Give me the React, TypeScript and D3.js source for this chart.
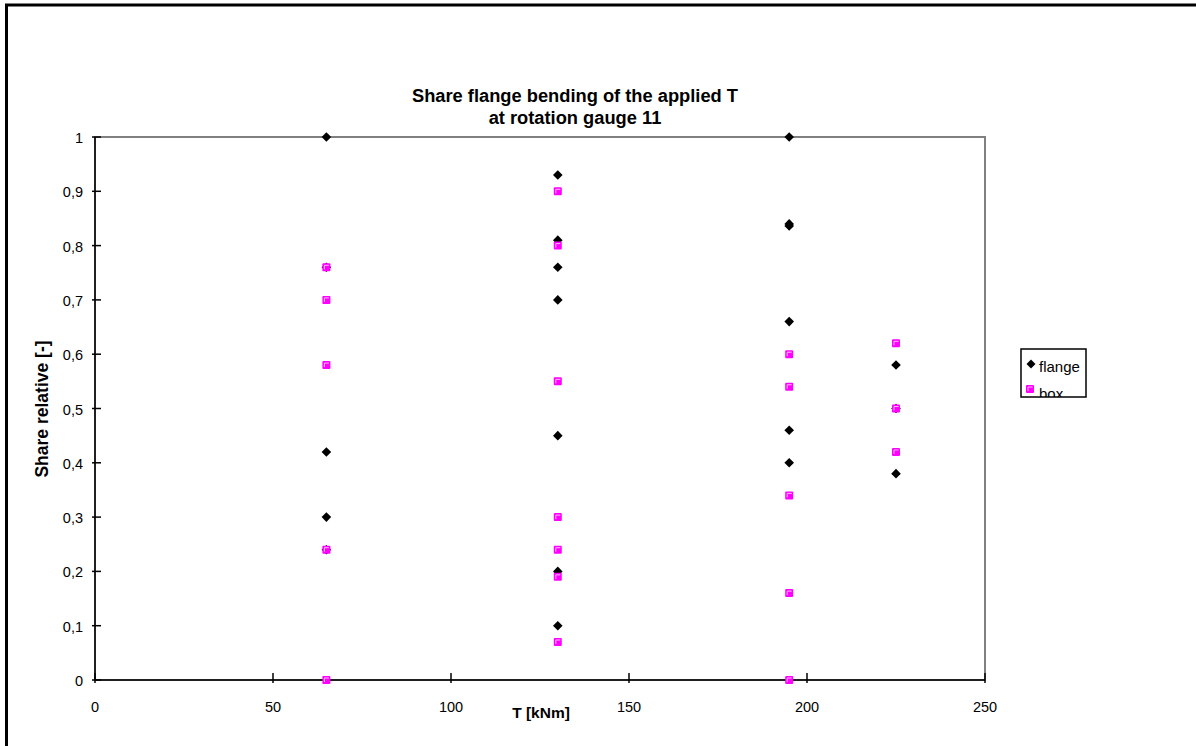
import React from "react";
import * as d3 from "d3";

const flangeT = [65, 65, 65, 65, 65, 130, 130, 130, 130, 130, 130, 130, 195, 195, 195, 195, 195, 195, 225, 225, 225];
const flangeV = [1.0, 0.76, 0.42, 0.30, 0.24, 0.93, 0.81, 0.76, 0.70, 0.45, 0.20, 0.10, 1.0, 0.84, 0.836, 0.66, 0.46, 0.40, 0.58, 0.50, 0.38];
const boxT = [65, 65, 65, 65, 65, 130, 130, 130, 130, 130, 130, 130, 195, 195, 195, 195, 195, 225, 225, 225];
const boxV = [0.76, 0.70, 0.58, 0.24, 0.0, 0.90, 0.80, 0.55, 0.30, 0.24, 0.19, 0.07, 0.60, 0.54, 0.34, 0.16, 0.0, 0.62, 0.50, 0.42];
const xTicks = [0, 50, 100, 150, 200, 250];
const yTicks = [0, 0.1, 0.2, 0.3, 0.4, 0.5, 0.6, 0.7, 0.8, 0.9, 1];
const titleLines = ["Share flange bending of the applied T", "at rotation gauge 11"];
const seriesNames = ["flange", "box"];

const FONT = "'Liberation Sans', Arial, sans-serif";

function Diamond({ x, y, r = 4.8 }: { x: number; y: number; r?: number }) {
  return <path d={`M${x},${y - r}L${x + r},${y}L${x},${y + r}L${x - r},${y}Z`} fill="#000" />;
}

function Square({ x, y }: { x: number; y: number }) {
  return (
    <g>
      <rect x={x - 4} y={y - 4} width={8} height={8} rx={1} fill="#ff00ff" />
      <path d={`M${x - 2},${y + 2}V${y - 2}H${x + 2.5}`} fill="none" stroke="#ffb8ff" strokeWidth={1} />
    </g>
  );
}

export default function App() {
  const x = d3.scaleLinear().domain([0, 250]).range([95, 985]);
  const y = d3.scaleLinear().domain([0, 1]).range([680, 137]);
  const fmt = (v: number) => (v === 0 || v === 1 ? String(v) : d3.format(".1f")(v).replace(".", ","));

  return (
    <svg width={1196} height={746} style={{ position: "absolute", left: 0, top: 0, background: "#fff" }} fontFamily={FONT}>
      <rect x={0} y={0} width={1196} height={746} fill="#fff" />
      <rect x={6.5} y={5} width={1400} height={1000} fill="none" stroke="#000" strokeWidth={3} />

      {/* title */}
      {titleLines.map((t, i) => (
        <text key={i} x={575} y={102 + i * 22} textAnchor="middle" fontSize={18.3} fontWeight="bold" fill="#000">{t}</text>
      ))}

      {/* plot area */}
      <rect x={x(0)} y={y(1)} width={x(250) - x(0)} height={y(0) - y(1)} fill="none" stroke="#808080" strokeWidth={2} />

      {/* y axis */}
      <line x1={x(0)} x2={x(0)} y1={y(1)} y2={y(0)} stroke="#000" strokeWidth={1.5} />
      {yTicks.map((v) => (
        <g key={v}>
          <line x1={x(0) - 3} x2={x(0) + 6} y1={y(v)} y2={y(v)} stroke="#000" strokeWidth={1.5} />
          <text x={83} y={y(v) + 6} textAnchor="end" fontSize={14.5} fill="#000">{fmt(v)}</text>
        </g>
      ))}

      {/* x axis */}
      <line x1={x(0)} x2={x(250)} y1={y(0)} y2={y(0)} stroke="#000" strokeWidth={1.5} />
      {xTicks.map((v) => (
        <g key={v}>
          <line x1={x(v)} x2={x(v)} y1={y(0) - 7} y2={y(0) + 3} stroke="#000" strokeWidth={1.5} />
          <text x={x(v)} y={712} textAnchor="middle" fontSize={14.5} fill="#000">{v}</text>
        </g>
      ))}

      {/* axis titles */}
      <text x={541} y={718} textAnchor="middle" fontSize={15.5} fontWeight="bold" fill="#000">T [kNm]</text>
      <text transform="translate(48,409) rotate(-90)" textAnchor="middle" fontSize={17.5} fontWeight="bold" fill="#000">Share relative [-]</text>

      {/* data */}
      {flangeT.map((t, i) => (
        <Diamond key={"f" + i} x={x(t)} y={y(flangeV[i])} />
      ))}
      {boxT.map((t, i) => (
        <Square key={"b" + i} x={x(t)} y={y(boxV[i])} />
      ))}

      {/* legend */}
      <defs>
        <clipPath id="legclip">
          <rect x={1021} y={349} width={65} height={48} />
        </clipPath>
      </defs>
      <g clipPath="url(#legclip)">
        <rect x={1021} y={349} width={65} height={48} fill="#fff" />
        <Diamond x={1031} y={364} r={4.5} />
        <text x={1039} y={372} fontSize={15} fill="#000">{seriesNames[0]}</text>
        <Square x={1030} y={389} />
        <text x={1039} y={399} fontSize={15} fill="#000">{seriesNames[1]}</text>
      </g>
      <rect x={1021} y={349} width={65} height={48} fill="none" stroke="#000" strokeWidth={1.5} />
    </svg>
  );
}
